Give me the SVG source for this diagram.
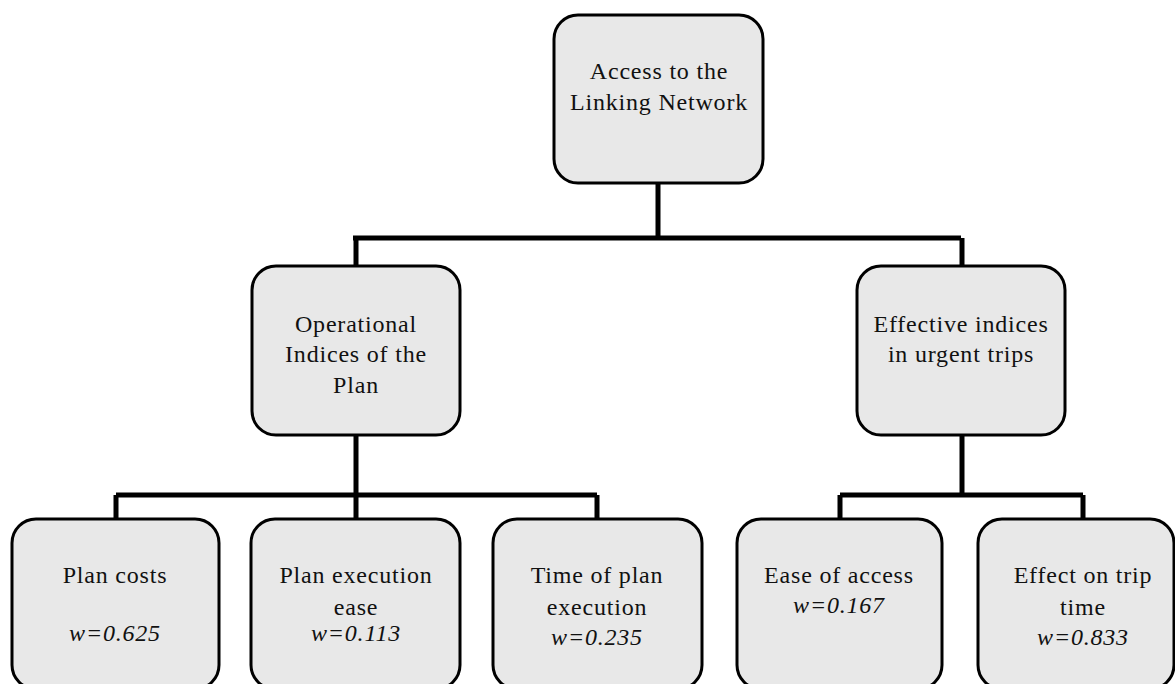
<svg xmlns="http://www.w3.org/2000/svg" width="1175" height="684" viewBox="0 0 1175 684">
<style>
.box{fill:#e8e8e8;stroke:#000;stroke-width:3}
.t{font-family:"Liberation Serif","Times New Roman",serif;font-size:24px;fill:#111;text-anchor:middle;letter-spacing:0.8px}
.w{font-style:italic}
.c{fill:none;stroke:#000;stroke-width:5}
</style>
<rect width="1175" height="684" fill="#fff"/>
<g id="connectors">
<path class="c" d="M658 183V238M353 238H961M356 238V266M962 238V266"/>
<path class="c" d="M356 435V495M116 495H597M116 495V519M356 495V519M597 495V519"/>
<path class="c" d="M962 435V495M840 495H1083M840 495V519M1083 495V519"/>
</g>
<g id="root">
<rect class="box" x="554" y="15" width="209" height="168" rx="24"/>
<text class="t" x="659" y="79">Access to the</text>
<text class="t" x="659" y="110">Linking Network</text>
</g>
<g id="operational">
<rect class="box" x="252" y="266" width="208" height="169" rx="24"/>
<text class="t" x="356" y="332">Operational</text>
<text class="t" x="356" y="362">Indices of the</text>
<text class="t" x="356" y="393">Plan</text>
</g>
<g id="effective">
<rect class="box" x="857" y="266" width="208" height="169" rx="24"/>
<text class="t" x="961" y="332">Effective indices</text>
<text class="t" x="961" y="362">in urgent trips</text>
</g>
<g id="plan-costs">
<rect class="box" x="12" y="519" width="207" height="170" rx="24"/>
<text class="t" x="115" y="583">Plan costs</text>
<text class="t w" x="115" y="641">w=0.625</text>
</g>
<g id="plan-ease">
<rect class="box" x="251" y="519" width="209" height="170" rx="24"/>
<text class="t" x="356" y="583">Plan execution</text>
<text class="t" x="356" y="615">ease</text>
<text class="t w" x="356" y="641">w=0.113</text>
</g>
<g id="plan-time">
<rect class="box" x="493" y="519" width="209" height="170" rx="24"/>
<text class="t" x="597" y="583">Time of plan</text>
<text class="t" x="597" y="615">execution</text>
<text class="t w" x="597" y="645">w=0.235</text>
</g>
<g id="ease-access">
<rect class="box" x="737" y="519" width="205" height="170" rx="24"/>
<text class="t" x="839" y="583">Ease of access</text>
<text class="t w" x="839" y="613">w=0.167</text>
</g>
<g id="trip-time">
<rect class="box" x="978" y="519" width="196" height="170" rx="24"/>
<text class="t" x="1083" y="583">Effect on trip</text>
<text class="t" x="1083" y="615">time</text>
<text class="t w" x="1083" y="645">w=0.833</text>
</g>
</svg>
